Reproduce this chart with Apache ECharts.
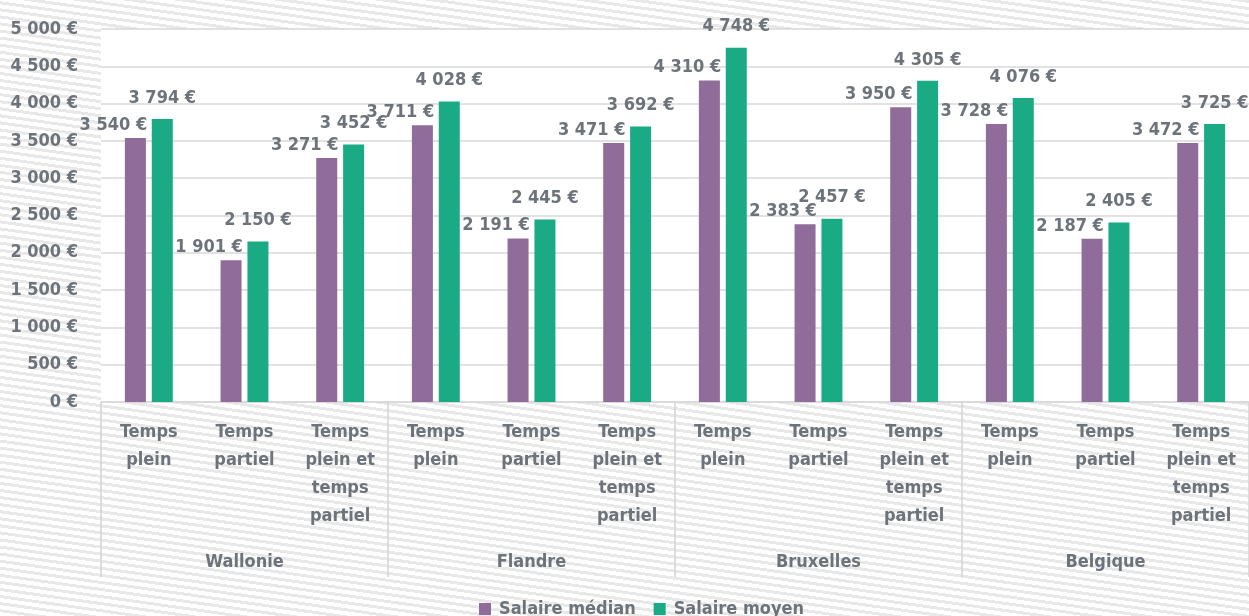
<!DOCTYPE html>
<html>
<head>
<meta charset="utf-8">
<script src="https://cdn.jsdelivr.net/npm/echarts@6/dist/echarts.min.js"></script>
<style>
  html, body { margin: 0; padding: 0; }
  body {
    background: repeating-linear-gradient(188deg, #e8e8e8 0px, #e8e8e8 3px, #ffffff 3px, #ffffff 7px);
  }
  #chart { width: 1249px; height: 616px; }
</style>
</head>
<body>
<div id="chart"></div>
<script>
var types = ['Temps\nplein', 'Temps\npartiel', 'Temps\nplein et\ntemps\npartiel'];
var regions = ['Wallonie', 'Flandre', 'Bruxelles', 'Belgique'];
var categories = [].concat(types, types, types, types);
var median = [3540, 1901, 3271, 3711, 2191, 3471, 4310, 2383, 3950, 3728, 2187, 3472];
var moyen = [3794, 2150, 3452, 4028, 2445, 3692, 4748, 2457, 4305, 4076, 2405, 3725];

var FONT = '"Liberation Sans Narrow", "DejaVu Sans Condensed", "Roboto", sans-serif';
var GREY = '#6d737a';
var FS = 18;

function euro(v) {
  return String(v).replace(/\B(?=(\d{3})+(?!\d))/g, ' ') + ' €';
}

var chart = echarts.init(document.getElementById('chart'));
chart.setOption({
  backgroundColor: 'transparent',
  animation: false,
  textStyle: { fontFamily: FONT },
  grid: {
    left: 101, right: 0, top: 29, bottom: 214,
    show: true, backgroundColor: '#ffffff', borderWidth: 0
  },
  legend: {
    top: 595,
    left: 474,
    icon: 'rect',
    itemWidth: 12,
    itemHeight: 12,
    itemGap: 18,
    textStyle: { color: GREY, fontSize: FS, fontWeight: 'bold', fontFamily: FONT, padding: [0, 0, 0, 3] }
  },
  xAxis: [{
    type: 'category',
    data: categories,
    axisLine: { lineStyle: { color: '#d9d9d9', width: 1.5 } },
    axisTick: { show: false },
    axisLabel: {
      interval: 0, margin: 16, color: GREY, fontSize: FS, fontWeight: 'bold',
      lineHeight: 28, fontFamily: FONT
    }
  }, {
    type: 'category',
    data: regions,
    position: 'bottom',
    offset: 0,
    axisLine: { show: false },
    axisTick: { show: true, length: 175, lineStyle: { color: '#d4d4d4', width: 1.5 } },
    axisLabel: {
      margin: 146, color: GREY, fontSize: FS, fontWeight: 'bold',
      lineHeight: 28, fontFamily: FONT
    }
  }],
  yAxis: {
    type: 'value',
    min: 0, max: 5000, interval: 500,
    axisLine: { show: false },
    axisTick: { show: false },
    splitLine: { lineStyle: { color: '#d9d9d9', width: 1.5 } },
    axisLabel: {
      margin: 23, color: GREY, fontSize: FS, fontWeight: 'bold', fontFamily: FONT,
      formatter: euro
    }
  },
  series: [{
    name: 'Salaire médian',
    type: 'bar',
    data: median,
    barWidth: 21,
    barGap: '28%',
    itemStyle: { color: '#8f6c9a' },
    label: {
      show: true, position: 'top', distance: 4, offset: [-22, 0],
      color: GREY, fontSize: FS, fontWeight: 'bold', fontFamily: FONT,
      formatter: function (p) { return euro(p.value); }
    }
  }, {
    name: 'Salaire moyen',
    type: 'bar',
    data: moyen,
    barWidth: 21,
    itemStyle: { color: '#1aab84' },
    label: {
      show: true, position: 'top', distance: 12,
      color: GREY, fontSize: FS, fontWeight: 'bold', fontFamily: FONT,
      formatter: function (p) { return euro(p.value); }
    }
  }]
});
</script>
</body>
</html>
